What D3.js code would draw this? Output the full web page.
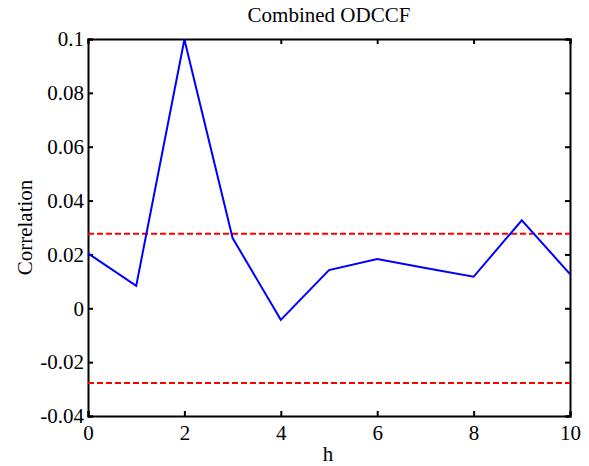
<!DOCTYPE html>
<html lang="en">
<head>
  <meta charset="UTF-8">
  <title>Combined ODCCF</title>
  <script src="https://d3js.org/d3.v7.min.js"></script>
  <style>
    body { margin: 0; background: white; }
    svg text { font-family: 'Liberation Serif', 'Times New Roman', serif; fill: black; }
    .axis path, .axis line { stroke: black; stroke-width: 2px; }
  </style>
</head>
<body>
<svg id="chart"></svg>
<script>
// data
const lags = [0, 1, 2, 3, 4, 5, 6, 7, 8, 9, 10];
const corr = [0.0204, 0.0083, 0.0998, 0.0261, -0.0043, 0.0142, 0.0183, 0.0150, 0.0117, 0.0327, 0.0127];
const bound = 0.0277;
const xTicks = [0, 2, 4, 6, 8, 10];
const yTicks = [-0.04, -0.02, 0, 0.02, 0.04, 0.06, 0.08, 0.1];

const width = 589, height = 466;
const margin = {top: 39, right: 19, bottom: 50, left: 88};
const serif = "'Liberation Serif', 'Times New Roman', serif";
const fs = 21;

const svg = d3.select("#chart").attr("width", width).attr("height", height);

const x = d3.scaleLinear().domain([0, 10]).range([margin.left, width - margin.right]);
const y = d3.scaleLinear().domain([-0.04, 0.1]).range([height - margin.bottom, margin.top]);

const fmt = d => d === 0 ? "0" : String(d);

// ticks inside the box, on all four sides
svg.append("g").attr("class", "axis")
  .attr("transform", `translate(0,${y(-0.04)})`)
  .call(d3.axisBottom(x).tickValues(xTicks).tickSize(-5).tickPadding(9).tickFormat(fmt))
  .call(g => g.selectAll("text").attr("font-size", fs).attr("dy", "0.71em"));
svg.append("g").attr("class", "axis")
  .attr("transform", `translate(0,${y(0.1)})`)
  .call(d3.axisTop(x).tickValues(xTicks).tickSize(-5).tickFormat(""));
svg.append("g").attr("class", "axis")
  .attr("transform", `translate(${x(0)},0)`)
  .call(d3.axisLeft(y).tickValues(yTicks).tickSize(-5).tickPadding(4).tickFormat(fmt))
  .call(g => g.selectAll("text").attr("font-size", fs));
svg.append("g").attr("class", "axis")
  .attr("transform", `translate(${x(10)},0)`)
  .call(d3.axisRight(y).tickValues(yTicks).tickSize(-5).tickFormat(""));
svg.selectAll(".axis").attr("font-family", serif);

// confidence bounds
svg.selectAll(".bound")
  .data([bound, -bound])
  .join("line")
  .attr("class", "bound")
  .attr("x1", x(0)).attr("x2", x(10))
  .attr("y1", d => y(d)).attr("y2", d => y(d))
  .attr("stroke", "red").attr("stroke-width", 2).attr("stroke-dasharray", "6,3");

// correlation line
svg.append("path")
  .datum(lags.map((h, i) => [h, corr[i]]))
  .attr("fill", "none")
  .attr("stroke", "blue")
  .attr("stroke-width", 2)
  .attr("d", d3.line().x(d => x(d[0])).y(d => y(d[1])));

// labels
svg.append("text").attr("x", (x(0) + x(10)) / 2).attr("y", 22).attr("font-family", serif)
  .attr("text-anchor", "middle").attr("font-size", fs).text("Combined ODCCF");
svg.append("text").attr("x", 328).attr("y", 461).attr("font-family", serif)
  .attr("text-anchor", "middle").attr("font-size", fs).text("h");
svg.append("text").attr("transform", `translate(32,${(y(-0.04) + y(0.1)) / 2}) rotate(-90)`)
  .attr("font-family", serif)
  .attr("text-anchor", "middle").attr("font-size", fs).text("Correlation");
</script>
</body>
</html>
